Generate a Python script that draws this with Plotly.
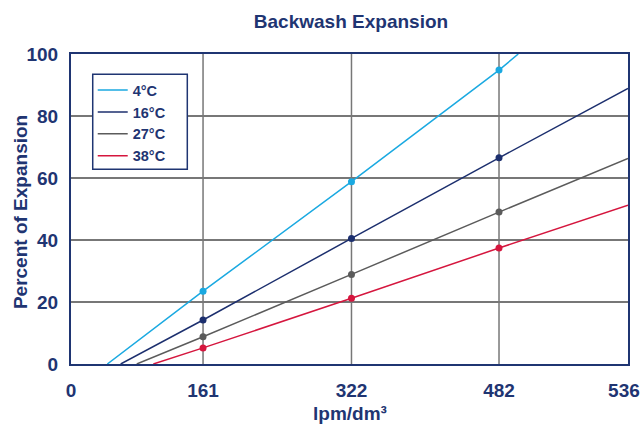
import plotly.graph_objects as go

# ---- data ----
series_names = ["4°C", "16°C", "27°C", "38°C"]
series_colors = ["#1aa9e1", "#1c2f6e", "#5b5b5b", "#d5163e"]

# measured points at the three gridlines
point_x = [161, 322, 482]
pts_4 = [23.5, 58.8, 94.8]
pts_16 = [14.2, 40.5, 66.5]
pts_27 = [8.8, 28.9, 49.0]
pts_38 = [5.2, 21.2, 37.4]

# full line extents (start on the 0 % baseline, end at the plot edge)
line_x_4 = [57.2, 161, 322, 482, 502.9]
line_y_4 = [0, 23.5, 58.8, 94.8, 100]
line_x_16 = [71.7, 161, 322, 482, 621.9]
line_y_16 = [0, 14.2, 40.5, 66.5, 88.9]
line_x_27 = [89.1, 161, 322, 482, 621.9]
line_y_27 = [0, 8.8, 28.9, 49.0, 66.3]
line_x_38 = [107.1, 161, 322, 482, 621.9]
line_y_38 = [0, 5.2, 21.2, 37.4, 51.2]

x_range = [17.8, 621.9]
x_tickvals = [17.8, 161, 322, 482, 617.5]
x_ticktext = ["0", "161", "322", "482", "536"]
y_tickvals = [0, 20, 40, 60, 80, 100]

navy = "#1f3572"
grid = "#777777"
font_family = "Liberation Sans, Arial, sans-serif"

fig = go.Figure()
line_sets = [(line_x_4, line_y_4), (line_x_16, line_y_16), (line_x_27, line_y_27), (line_x_38, line_y_38)]
point_sets = [pts_4, pts_16, pts_27, pts_38]

for name, color, (lx, ly) in zip(series_names, series_colors, line_sets):
    fig.add_trace(go.Scatter(x=lx, y=ly, mode="lines", name=name,
                             line=dict(color=color, width=1.5)))
for name, color, py in zip(series_names, series_colors, point_sets):
    fig.add_trace(go.Scatter(x=point_x, y=py, mode="markers", name=name, showlegend=False,
                             marker=dict(color=color, size=7)))

bold = lambda s: dict(size=s, color=navy, weight="bold", family=font_family)

fig.update_layout(
    width=644, height=425,
    margin=dict(l=71, r=16, t=54, b=61, autoexpand=False),
    paper_bgcolor="white", plot_bgcolor="white",
    font=dict(family=font_family, color=navy),
    title=dict(text="Backwash Expansion", x=0.545, xanchor="center",
               y=1 - 21 / 425, yanchor="middle", font=bold(19)),
    showlegend=True,
    legend=dict(x=0.039, y=0.935, xanchor="left", yanchor="top",
                bgcolor="rgba(0,0,0,0)", borderwidth=0,
                font=bold(14.5), tracegroupgap=0),
    # legend frame (white box with navy border, wider than Plotly's own box)
    shapes=[dict(type="rect", xref="paper", yref="paper",
                 x0=0.039, x1=0.2088, y0=0.628, y1=0.9345,
                 line=dict(color=navy, width=1.5), fillcolor="white", layer="above")],
    annotations=[
        dict(text="lpm/dm³", xref="paper", yref="paper", x=0.5, y=-0.16,
             xanchor="center", yanchor="middle", showarrow=False, font=bold(19)),
        dict(text="Percent of Expansion", xref="paper", yref="paper", x=-0.0916, y=0.49,
             xanchor="center", yanchor="middle", textangle=-90, showarrow=False, font=bold(19)),
    ],
)
fig.update_xaxes(range=x_range, tickvals=x_tickvals, ticktext=x_ticktext,
                 showgrid=False, automargin=False,
                 showline=True, linecolor=navy, linewidth=2, mirror=True,
                 ticks="", ticklabelstandoff=8, zeroline=False,
                 tickfont=bold(19))
# vertical gridlines only at the three interior ticks
for gx in point_x:
    fig.add_vline(x=gx, line=dict(color=grid, width=1.5), layer="below")
fig.update_yaxes(range=[0, 100], tickvals=y_tickvals, automargin=False,
                 showgrid=True, gridcolor=grid, gridwidth=1.5,
                 showline=True, linecolor=navy, linewidth=2, mirror=True,
                 ticks="", zeroline=False, ticklabelstandoff=7,
                 tickfont=bold(19))

# remove the default 8px page margin so the 644x425 figure fills the window exactly
fig.write_html(
    "out.html",
    config={"displayModeBar": False},
    post_script="document.body.style.margin='0';document.body.style.overflow='hidden';"
                "document.documentElement.style.overflow='hidden';",
)
